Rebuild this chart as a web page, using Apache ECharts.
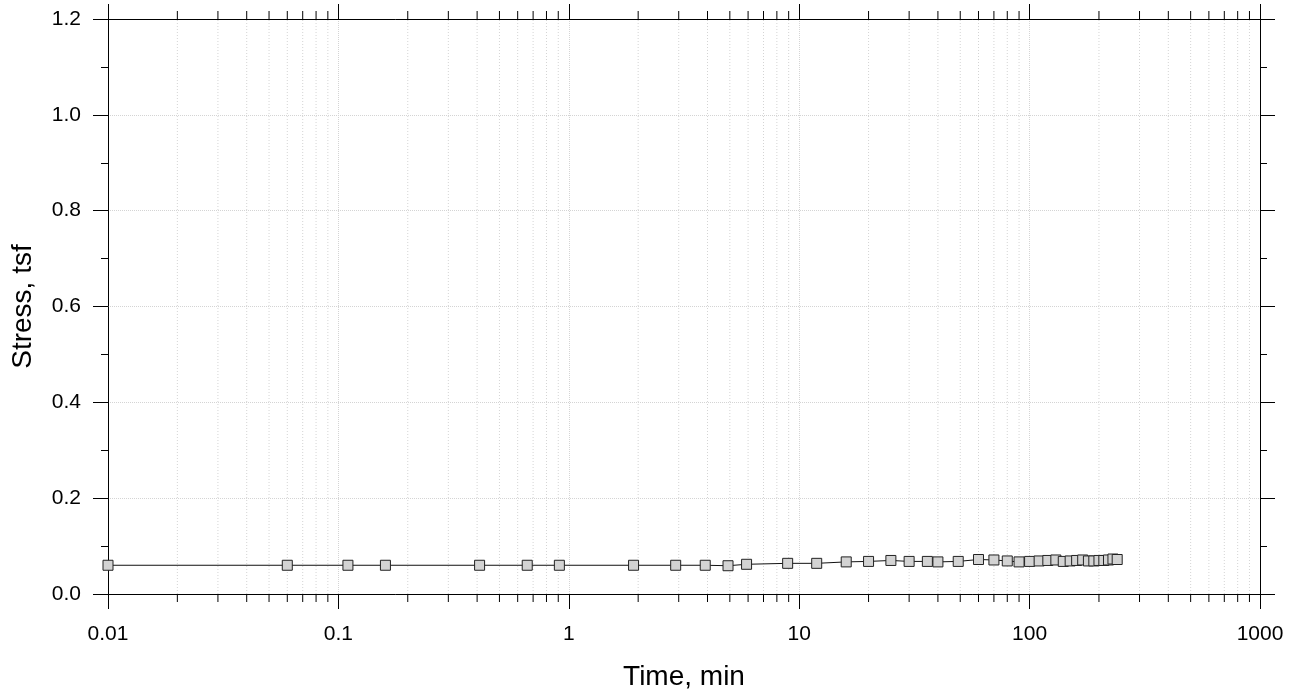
<!DOCTYPE html>
<html>
<head>
<meta charset="utf-8">
<script src="https://cdn.jsdelivr.net/npm/echarts@6/dist/echarts.min.js"></script>
<style>
html,body{margin:0;padding:0;background:#fff;}
#chart{width:1297px;height:694px;}
</style>
</head>
<body>
<div id="chart"></div>
<script>
// ---- data ----
var timeMin = [0.01, 0.06, 0.11, 0.16, 0.41, 0.66, 0.91, 1.91, 2.91, 3.91, 4.91, 5.91, 8.91, 11.91,
  16, 20, 25, 30, 36, 40, 49, 60, 70, 80, 90, 100, 110, 120, 130, 140, 150, 160, 170, 180, 190,
  200, 210, 220, 230, 240];
var stressTsf = [0.060, 0.060, 0.060, 0.060, 0.060, 0.060, 0.060, 0.060, 0.060, 0.060, 0.059, 0.062, 0.064, 0.064,
  0.067, 0.068, 0.070, 0.068, 0.068, 0.067, 0.068, 0.072, 0.071, 0.069, 0.067, 0.068, 0.069, 0.070, 0.071, 0.068,
  0.069, 0.070, 0.071, 0.069, 0.069, 0.070, 0.070, 0.071, 0.073, 0.072];
var xMin = 0.01, xMax = 1000;
var yMin = 0, yMax = 1.2, yStep = 0.2;
var xTitle = 'Time, min';
var yTitle = 'Stress, tsf';

// minor log positions (2..9 in each decade)
var minorX = [];
for (var e = -2; e < 3; e++) {
  for (var m = 2; m <= 9; m++) minorX.push(Number((m * Math.pow(10, e)).toPrecision(6)));
}

var FONT = 'Liberation Sans, Arial, sans-serif';
var AX = '#000';
var GRIDC = '#d4d4d4';

var pts = timeMin.map(function (t, i) { return [t, stressTsf[i]]; });

var chart = echarts.init(document.getElementById('chart'), null, { renderer: 'canvas' });

function fmtX(v) { return String(Number(Number(v).toPrecision(6))); }

var option = {
  animation: false,
  backgroundColor: '#fff',
  grid: { left: 108, right: 37, top: 19, bottom: 100, containLabel: false, outerBoundsMode: 'none' },
  xAxis: [{
    type: 'log', logBase: 10, min: xMin, max: xMax, position: 'bottom',
    name: xTitle, nameLocation: 'middle', nameGap: 69,
    nameTextStyle: { fontFamily: FONT, fontSize: 28, color: '#000' },
    axisLine: { onZero: false, lineStyle: { color: AX, width: 1 } },
    axisTick: { show: true, inside: false, length: 15, lineStyle: { color: AX, width: 1 } },
    axisLabel: { fontFamily: FONT, fontSize: 21, color: '#000', margin: 30, formatter: fmtX },
    splitLine: { show: true, lineStyle: { color: GRIDC, type: 'dotted', width: 1 } }
  }, {
    type: 'log', logBase: 10, min: xMin, max: xMax, position: 'top',
    axisLine: { onZero: false, lineStyle: { color: AX, width: 1 } },
    axisTick: { show: true, inside: false, length: 15, lineStyle: { color: AX, width: 1 } },
    axisLabel: { show: false },
    splitLine: { show: false }
  }],
  yAxis: [{
    type: 'value', min: yMin, max: yMax, interval: yStep, position: 'left',
    name: yTitle, nameLocation: 'middle', nameGap: 71,
    nameTextStyle: { fontFamily: FONT, fontSize: 28, color: '#000' },
    axisLine: { show: true, onZero: false, lineStyle: { color: AX, width: 1 } },
    axisTick: { show: true, inside: false, length: 15, lineStyle: { color: AX, width: 1 } },
    minorTick: { show: true, splitNumber: 2, length: 7, lineStyle: { color: AX, width: 1 } },
    axisLabel: { fontFamily: FONT, fontSize: 21, color: '#000', margin: 27,
      formatter: function (v) { return v.toFixed(1); } },
    splitLine: { show: true, lineStyle: { color: GRIDC, type: 'dotted', width: 1 } }
  }, {
    type: 'value', min: yMin, max: yMax, interval: yStep, position: 'right',
    axisLine: { show: true, onZero: false, lineStyle: { color: AX, width: 1 } },
    axisTick: { show: true, inside: false, length: 15, lineStyle: { color: AX, width: 1 } },
    minorTick: { show: true, splitNumber: 2, length: 7, lineStyle: { color: AX, width: 1 } },
    axisLabel: { show: false },
    splitLine: { show: false }
  }],
  series: [{
    type: 'custom',
    xAxisIndex: 0, yAxisIndex: 0,
    silent: true, clip: false, z: 1,
    data: minorX.map(function (x) { return [x, 0]; }),
    encode: { x: 0, y: 1 },
    renderItem: function (params, api) {
      var x = api.value(0);
      var b = api.coord([x, yMin]);
      var t = api.coord([x, yMax]);
      return {
        type: 'group',
        children: [
          { type: 'line', shape: { x1: b[0], y1: b[1], x2: t[0], y2: t[1] },
            style: { stroke: GRIDC, lineWidth: 1, lineDash: [1, 2] } },
          { type: 'line', shape: { x1: b[0], y1: b[1], x2: b[0], y2: b[1] + 8 },
            style: { stroke: AX, lineWidth: 1 } },
          { type: 'line', shape: { x1: t[0], y1: t[1], x2: t[0], y2: t[1] - 8 },
            style: { stroke: AX, lineWidth: 1 } }
        ]
      };
    }
  }, {
    type: 'line',
    xAxisIndex: 0, yAxisIndex: 0,
    data: pts,
    z: 5,
    symbol: 'rect', symbolSize: 10,
    itemStyle: { color: '#d3d3d3', borderColor: '#222', borderWidth: 1 },
    lineStyle: { color: '#111', width: 1 },
    showSymbol: true
  }]
};
chart.setOption(option);
</script>
</body>
</html>
